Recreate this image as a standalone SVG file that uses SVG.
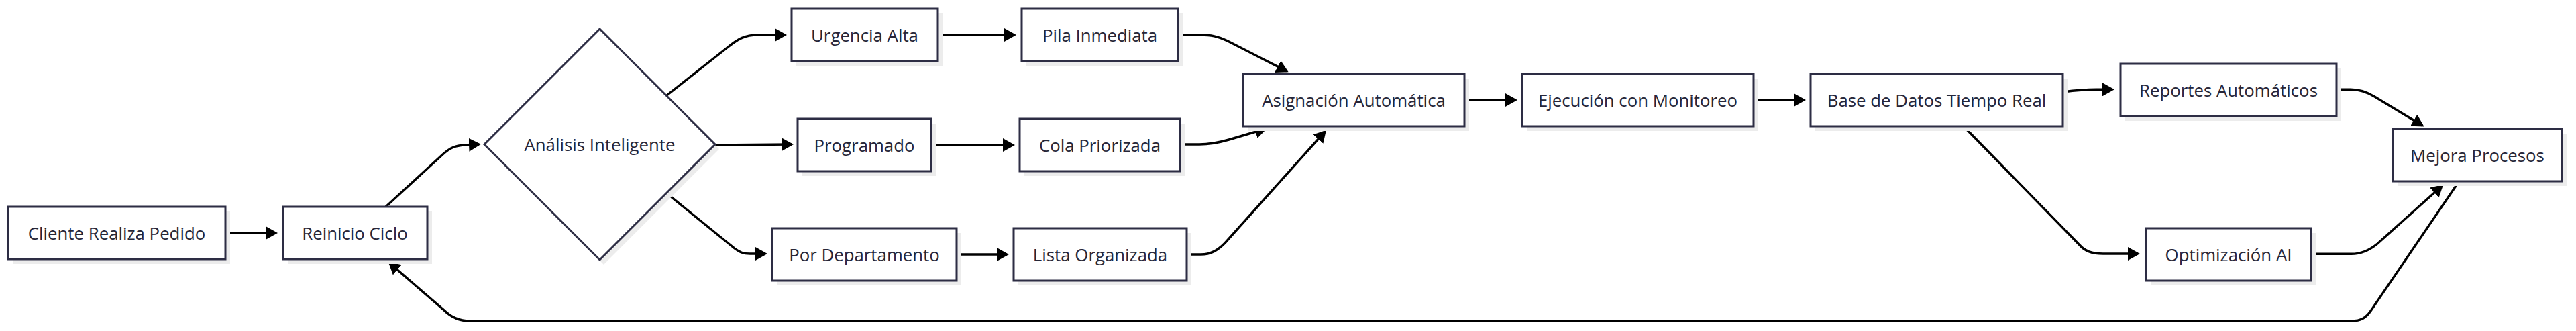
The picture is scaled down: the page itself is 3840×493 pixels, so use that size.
<svg xmlns="http://www.w3.org/2000/svg" width="3840" height="493" viewBox="0 0 3840 493">
<style>
.box{fill:#ffffff;stroke:#2d2d44;stroke-width:3}
.sh{fill:#ececec;stroke:none}
.lbl{font-family:"Open Sans","Noto Sans","Liberation Sans",sans-serif;font-size:25.8px;fill:#262638;text-anchor:middle;dominant-baseline:central}
.edge{fill:none;stroke:#000000;stroke-width:3.4;marker-end:url(#arr)}
</style>
<defs>
<marker id="arr" viewBox="0 0 18 20" refX="15" refY="10" markerWidth="18" markerHeight="20" markerUnits="userSpaceOnUse" orient="auto">
<path d="M0,0 L18,10 L0,20 z" fill="#000000"/>
</marker>
</defs>
<rect width="3840" height="493" fill="#ffffff"/>
<g id="connectors">
<path class="edge" d="M336,347 L411,347"/>
<path class="edge" d="M575,308 L660,230 C672,219 680,217 692,216 L714,215"/>
<path class="edge" d="M994,142 L1084,71 C1100,58 1110,52 1130,52 L1170,52"/>
<path class="edge" d="M1066,216 L1180,215"/>
<path class="edge" d="M994,288 L1095,370 C1103,376 1108,378 1118,378 L1141,378"/>
<path class="edge" d="M1398,52 L1512,52"/>
<path class="edge" d="M1388,216 L1510,216"/>
<path class="edge" d="M1426,379 L1501,379"/>
<path class="edge" d="M1756,52 L1790,52 C1805,52 1815,54 1830,61 L1918,106"/>
<path class="edge" d="M1760,215 L1788,215 C1805,215 1818,212 1832,208 L1886,192"/>
<path class="edge" d="M1768,379 L1790,379 C1805,379 1815,373 1826,362 L1975,196"/>
<path class="edge" d="M2183,149 L2259,149"/>
<path class="edge" d="M2614,149 L2689,149"/>
<path class="edge" d="M3075,137 C3095,134.5 3105,133.3 3125,133.3 L3149,133.3"/>
<path class="edge" d="M2927,188 L3100,365 C3108,374 3118,378 3135,378 L3187,378"/>
<path class="edge" d="M3483,133.3 L3504,133.3 C3518,133.3 3528,137 3539,143.5 L3611,187"/>
<path class="edge" d="M3445,378.3 L3505,378.3 C3520,378.3 3532,373 3544,363 L3640,277"/>
<path class="edge" d="M3665,271 L3534,463 C3527,473 3520,478 3505,478 L700,478 C685,478 672,472 662,462 L581,392"/>
</g>
<g id="n-cliente"><rect class="sh" x="19" y="315" width="324" height="78"/><rect class="box" x="12" y="308" width="324" height="78"/><text class="lbl" x="174" y="347">Cliente Realiza Pedido</text></g>
<g id="n-reinicio"><rect class="sh" x="429" y="315" width="215" height="78"/><rect class="box" x="422" y="308" width="215" height="78"/><text class="lbl" x="529" y="347">Reinicio Ciclo</text></g>
<g id="n-analisis"><polygon class="sh" points="900,50 1072,222 900,394 728,222"/><polygon class="box" points="894,43 1066,215 894,387 722,215"/><text class="lbl" x="894" y="215">Análisis Inteligente</text></g>
<g id="n-urgencia"><rect class="sh" x="1187" y="20" width="218" height="78"/><rect class="box" x="1180" y="13" width="218" height="78"/><text class="lbl" x="1289" y="52">Urgencia Alta</text></g>
<g id="n-programado"><rect class="sh" x="1196" y="184" width="199" height="78"/><rect class="box" x="1189" y="177" width="199" height="78"/><text class="lbl" x="1288.5" y="216">Programado</text></g>
<g id="n-departamento"><rect class="sh" x="1158" y="347" width="275" height="78"/><rect class="box" x="1151" y="340" width="275" height="78"/><text class="lbl" x="1288.5" y="379">Por Departamento</text></g>
<g id="n-pila"><rect class="sh" x="1530" y="20" width="233" height="78"/><rect class="box" x="1523" y="13" width="233" height="78"/><text class="lbl" x="1639.5" y="52">Pila Inmediata</text></g>
<g id="n-cola"><rect class="sh" x="1527" y="184" width="239" height="78"/><rect class="box" x="1520" y="177" width="239" height="78"/><text class="lbl" x="1639.5" y="216">Cola Priorizada</text></g>
<g id="n-lista"><rect class="sh" x="1518" y="347" width="258" height="78"/><rect class="box" x="1511" y="340" width="258" height="78"/><text class="lbl" x="1640" y="379">Lista Organizada</text></g>
<g id="n-asignacion"><rect class="sh" x="1860" y="117" width="330" height="78"/><rect class="box" x="1853" y="110" width="330" height="78"/><text class="lbl" x="2018" y="149">Asignación Automática</text></g>
<g id="n-ejecucion"><rect class="sh" x="2276" y="117" width="345" height="78"/><rect class="box" x="2269" y="110" width="345" height="78"/><text class="lbl" x="2441.5" y="149">Ejecución con Monitoreo</text></g>
<g id="n-basedatos"><rect class="sh" x="2706" y="117" width="376" height="78"/><rect class="box" x="2699" y="110" width="376" height="78"/><text class="lbl" x="2887" y="149">Base de Datos Tiempo Real</text></g>
<g id="n-reportes"><rect class="sh" x="3168" y="102" width="322" height="78"/><rect class="box" x="3161" y="95" width="322" height="78"/><text class="lbl" x="3322" y="134">Reportes Automáticos</text></g>
<g id="n-optimizacion"><rect class="sh" x="3206" y="347" width="246" height="78"/><rect class="box" x="3199" y="340" width="246" height="78"/><text class="lbl" x="3322" y="379">Optimización AI</text></g>
<g id="n-mejora"><rect class="sh" x="3574" y="199" width="252" height="78"/><rect class="box" x="3567" y="192" width="252" height="78"/><text class="lbl" x="3693" y="231">Mejora Procesos</text></g>
</svg>
